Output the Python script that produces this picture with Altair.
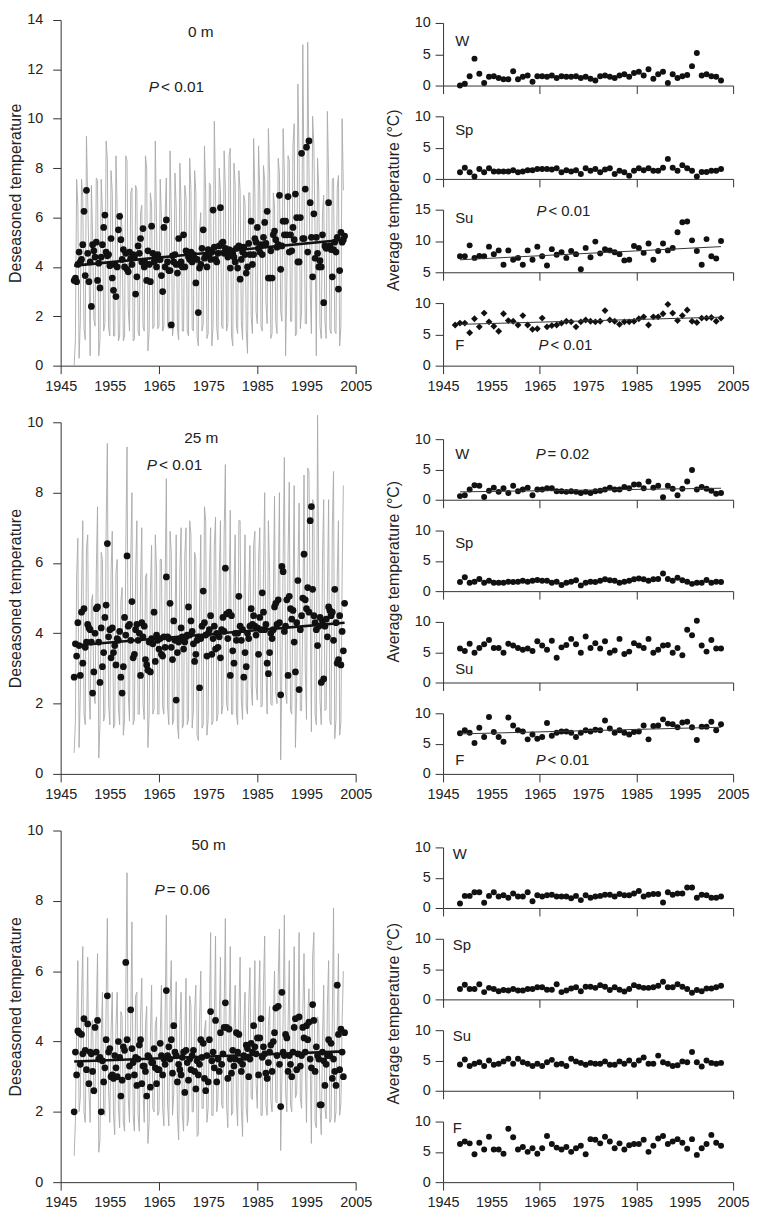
import altair as alt
import pandas as pd

FONT = "Liberation Sans"
INK = "#111111"
TXT = "#222222"

# ---------------- 0 m ----------------
dots0 = [3.45, 3.55, 3.4, 4.1, 4.6, 4.2, 4.3, 4.9, 6.25, 3.65, 7.1, 4.55,
         3.4, 4.2, 2.4, 4.9, 4.65, 4.4, 5.0, 3.45, 4.15, 3.15, 4.4, 4.9, 5.6, 6.1,
         4.6, 4.45, 4.5, 4.05, 5.15, 3.55, 3.05, 4.1, 2.8, 4.0, 5.5, 6.05, 5.1, 4.3, 4.7, 4.0,
         4.55, 3.9, 3.8, 4.6, 4.35, 4.1, 4.5, 4.4, 2.9, 3.6, 4.85, 4.55, 5.15, 4.2,
         5.55, 4.0, 4.15, 3.45, 4.65, 4.1, 3.4, 5.65, 4.55, 4.2, 4.4, 4.0, 4.5, 4.3,
         4.3, 3.65, 3.0, 5.6, 4.0, 5.9, 4.2, 3.85, 3.85, 1.65, 4.45, 4.2, 4.5, 4.1,
         3.75, 5.15, 4.1, 4.2, 4.0, 5.3, 4.0, 4.65, 4.55, 4.4, 4.3, 4.6, 4.2, 4.5, 4.35,
         3.35, 4.3, 2.15, 3.95, 4.1, 4.75, 5.5, 4.35, 4.45, 4.0, 4.7, 4.5, 4.3, 4.6,
         6.3, 4.8, 4.3, 4.2, 4.55, 4.85, 6.4, 4.95, 5.0, 4.55, 4.75, 4.6, 4.4, 4.7,
         3.95, 4.65, 4.55, 4.4, 4.2, 4.75, 3.95, 4.85, 3.5, 4.3, 4.6, 4.8, 4.5,
         3.75, 4.0, 4.95, 4.5, 5.85, 4.1, 4.5, 5.15, 5.0, 5.6, 4.75, 4.6, 4.9,
         4.5, 5.2, 5.8, 4.95, 6.25, 3.55, 3.55, 4.65, 3.55, 5.3, 5.45, 5.1, 4.8, 4.9,
         6.9, 3.9, 4.85, 5.85, 5.3, 5.85, 5.3, 6.85, 4.6, 5.3, 4.65, 5.6,
         5.1, 6.95, 6.0, 4.2, 4.2, 6.0, 8.6, 5.15, 5.15, 7.15, 8.85, 4.6, 9.1, 6.6,
         5.2, 3.6, 6.15, 4.35, 5.2, 4.55, 4.0, 4.25, 4.0, 5.3, 2.55, 4.85, 4.75, 4.8,
         6.6, 4.85, 4.7, 3.6, 4.7, 5.0, 4.6, 5.2, 3.1, 3.85, 5.4, 5.0, 5.1, 5.25]
trend0 = [4.05, 5.1]
w0 = [0.0, 0.3, 1.5, 4.3, 1.9, 0.4, 1.4, 1.5, 1.2, 1.0, 1.0, 2.3, 1.0, 1.4, 1.6, 0.6, 1.5, 1.5, 1.4, 1.6,
      1.2, 1.5, 1.4, 1.4, 1.5, 1.2, 1.4, 1.1, 0.8, 1.5, 1.6, 1.4, 1.2, 1.6, 1.8, 1.4, 2.0, 2.2, 1.6, 2.6,
      1.1, 1.8, 2.2, 0.4, 1.8, 1.2, 1.5, 1.7, 3.1, 5.2, 1.6, 1.8, 1.5, 1.4, 0.8]
sp0 = [1.05, 1.8, 1.05, 0.4, 1.6, 1.05, 1.7, 1.2, 1.2, 1.2, 1.2, 1.4, 1.05, 1.2, 1.4, 1.4, 1.6, 1.6, 1.6, 1.5,
       1.7, 1.05, 1.4, 1.2, 1.4, 0.8, 1.7, 1.3, 1.6, 1.05, 1.5, 1.7, 0.8, 1.3, 1.05, 0.5, 1.3, 1.7, 1.4, 1.7,
       1.3, 1.3, 1.8, 3.2, 1.8, 1.3, 2.2, 1.7, 1.3, 0.4, 1.1, 1.1, 1.3, 1.3, 1.6]
su0 = [7.55, 7.55, 9.3, 7.3, 7.6, 7.55, 9.1, 7.9, 8.5, 6.2, 8.5, 7.0, 7.3, 6.2, 8.5, 7.0, 9.1, 7.55, 6.1, 8.7,
       7.8, 8.2, 7.3, 8.4, 7.9, 5.5, 8.9, 7.4, 9.9, 8.0, 8.7, 8.5, 8.2, 7.9, 6.9, 7.0, 9.2, 8.9, 8.1, 9.6,
       7.0, 8.4, 9.6, 8.5, 8.9, 11.4, 13.0, 13.1, 10.1, 8.4, 6.2, 10.3, 7.55, 7.2, 10.0]
f0 = [6.5, 6.8, 6.8, 5.25, 7.5, 6.2, 8.4, 7.0, 6.3, 5.5, 8.3, 7.2, 7.1, 6.5, 8.0, 6.5, 5.8, 5.9, 7.6, 6.2,
      6.4, 6.5, 6.8, 7.1, 7.0, 6.2, 7.0, 7.3, 7.1, 7.0, 7.1, 8.8, 7.3, 7.1, 6.6, 7.0, 7.0, 7.1, 7.5, 7.8,
      6.5, 7.8, 7.8, 8.3, 9.8, 8.4, 7.2, 8.0, 8.9, 7.1, 6.9, 7.6, 7.6, 7.7, 7.1, 7.6]
su0_trend = [7.0, 9.1]
f0_trend = [6.6, 7.75]

# ---------------- 25 m ----------------
dots25 = [2.75, 3.7, 3.35, 4.3, 3.65, 2.8, 4.6, 3.15, 4.7, 3.6,
          3.75, 4.25, 4.15, 4.1, 3.75, 2.3, 2.9, 4.0, 4.7, 4.75,
          3.75, 2.6, 4.15, 3.05, 3.45, 4.45, 4.8, 6.55, 3.9, 4.1,
          3.3, 4.15, 3.45, 3.65, 3.1, 3.85, 3.8, 4.05, 2.75, 2.3,
          3.05, 4.45, 3.95, 6.2, 4.2, 4.25, 3.8, 4.9, 3.3, 3.4,
          4.1, 4.25, 3.8, 4.0, 2.8, 4.3, 3.9, 4.2, 3.25, 3.1,
          2.95, 3.75, 2.9, 3.85, 3.7, 4.6, 3.2, 3.95, 3.8, 3.55,
          3.85, 3.4, 3.35, 3.9, 3.6, 5.6, 3.9, 3.85, 4.85, 3.6,
          3.25, 4.35, 3.8, 2.1, 3.45, 3.75, 3.85, 4.15, 3.9, 3.55,
          3.75, 3.9, 3.95, 4.75, 3.95, 4.35, 4.05, 3.7, 3.2, 3.4, 3.8, 3.9, 2.45,
          3.85, 4.2, 5.2, 4.3, 3.95, 3.35, 4.0, 4.1, 4.5, 3.4, 3.85, 4.2, 3.55,
          4.0, 3.6, 3.9, 3.3, 4.1, 4.45, 4.05, 5.85,
          4.55, 3.85, 4.6, 2.8, 4.5, 3.5, 3.15, 4.0, 3.8, 4.0, 5.05, 4.2, 3.8, 4.1,
          2.75, 3.45, 3.05, 4.0, 3.85, 4.2, 4.7, 4.25, 4.5, 4.2, 3.95, 4.15,
          3.4, 4.45, 4.1, 5.15, 4.6, 4.1, 4.25, 3.15, 2.85, 3.45, 4.0,
          3.85, 4.1, 4.75, 4.85, 4.25, 4.95, 4.3, 2.25,
          5.9, 5.75, 4.05, 4.2, 4.95, 2.8, 5.05, 4.7, 4.4, 4.65, 3.75, 2.9, 4.3, 5.5, 2.4, 4.1,
          4.5, 5.0, 6.25, 4.95, 4.7, 5.3, 4.6, 7.2,
          7.6, 5.25, 4.5, 4.3, 4.1, 3.65, 4.2, 4.45, 2.6, 4.35, 2.7, 4.2, 4.4, 3.9, 4.75, 4.65,
          4.5, 4.6, 3.8, 5.25, 4.3, 3.15, 3.25, 4.5, 3.1, 4.05, 3.5, 4.85]
trend25 = [3.65, 4.3]
w25 = [0.6, 0.75, 1.7, 2.4, 2.3, 0.45, 1.5, 2.0, 1.3, 1.9, 1.1, 2.3, 1.4, 1.7, 2.0, 0.75, 1.7, 1.7, 1.9, 1.9,
       1.4, 1.4, 1.3, 1.4, 1.3, 1.1, 1.3, 1.1, 1.4, 1.5, 1.7, 2.0, 1.7, 1.7, 2.1, 1.9, 2.5, 2.5, 1.9, 3.0,
       2.0, 2.3, 0.4, 2.3, 1.8, 0.75, 1.8, 3.0, 4.9, 1.7, 2.1, 1.8, 1.5, 1.0, 1.1]
sp25 = [1.5, 2.3, 1.4, 1.55, 2.0, 1.4, 1.7, 1.4, 1.4, 1.4, 1.55, 1.5, 1.55, 1.7, 1.55, 1.7, 1.85, 1.7, 1.7, 1.4,
        1.55, 1.0, 1.4, 1.55, 1.8, 0.95, 1.4, 1.55, 1.5, 1.7, 1.95, 1.8, 1.7, 1.4, 1.55, 1.7, 1.95, 2.1, 1.95, 1.7,
        1.95, 2.0, 2.9, 2.0, 1.7, 2.2, 1.8, 1.55, 1.2, 1.4, 1.4, 1.85, 1.4, 1.55, 1.5]
su25 = [5.6, 5.2, 6.4, 4.9, 5.7, 6.3, 7.0, 5.7, 5.7, 4.9, 6.4, 6.1, 5.7, 5.4, 5.6, 5.2, 6.8, 6.1, 5.4, 6.9,
        4.1, 5.8, 6.2, 7.2, 6.3, 4.9, 7.6, 5.7, 6.5, 5.6, 6.8, 4.9, 5.3, 7.2, 4.7, 5.1, 6.5, 6.1, 5.7, 7.2,
        4.9, 5.4, 6.1, 6.2, 4.9, 5.7, 4.5, 8.7, 7.8, 10.2, 6.1, 5.1, 7.0, 5.6, 5.6]
f25 = [6.7, 7.2, 6.8, 5.1, 7.6, 6.1, 9.4, 6.9, 6.1, 5.3, 9.3, 8.0, 7.2, 7.0, 5.7, 6.5, 5.8, 6.1, 8.4, 6.3,
       6.8, 7.0, 7.0, 6.8, 6.1, 6.8, 7.2, 7.0, 7.3, 7.2, 8.8, 7.5, 6.8, 7.2, 6.8, 6.5, 6.9, 7.0, 8.0, 5.7,
       7.9, 8.0, 9.0, 8.3, 8.2, 7.7, 8.5, 8.6, 7.7, 5.6, 7.8, 7.8, 8.6, 7.2, 8.2]
w25_trend = [1.3, 1.9]
f25_trend = [6.6, 7.7]

# ---------------- 50 m ----------------
dots50 = [2.0, 3.7, 3.05, 4.3, 4.25, 3.35, 4.2, 3.65, 4.65, 3.75, 3.2, 4.5, 2.8, 3.7, 3.65, 3.15, 2.6,
          4.4, 3.7, 4.6, 3.5, 3.55, 2.0, 3.45, 2.85, 3.25, 4.05, 5.3, 3.7, 3.8, 3.0, 3.05, 2.95, 3.6,
          3.25, 3.0, 4.0, 3.55, 2.45, 2.9, 3.85, 3.75, 6.25, 4.05, 3.0, 3.3, 4.9, 3.8, 3.4, 3.05,
          3.55, 2.75, 3.5, 3.9, 4.05, 2.8, 3.3, 3.3, 3.15, 2.45, 3.6, 3.55, 2.7, 3.4, 3.4, 3.8, 3.25,
          2.8, 3.2, 3.2, 3.95, 3.6, 3.05, 3.5, 3.35,
          5.45,
          3.6, 3.85, 3.5, 4.05, 3.1, 4.45, 3.7, 3.6, 2.85, 3.35, 3.2, 3.05, 3.55, 3.7, 2.55, 3.75, 3.4,
          2.9, 3.5, 3.2, 3.6, 3.75, 3.15, 2.65, 3.45, 3.05, 3.35, 4.05, 3.55, 3.95, 2.95, 2.6, 3.6, 2.85,
          4.05, 4.85, 3.45, 3.7, 3.25, 4.6, 2.85, 3.5, 3.15, 4.25, 3.35, 3.65, 4.4,
          5.1,
          4.4, 2.95, 4.35, 3.5, 3.1, 3.75, 3.3, 3.5, 4.25, 3.7, 4.2, 3.45, 3.15, 3.35, 3.6, 3.55, 3.9,
          3.8, 3.0, 3.5, 3.95, 3.7, 4.45, 3.85, 3.65, 4.1, 3.05, 4.1, 4.65, 3.55, 3.85, 3.65, 3.1, 2.95,
          3.4, 3.7, 3.9, 3.15, 4.0, 4.25, 4.95, 3.6, 5.0, 3.35,
          2.15,
          5.4, 3.7, 3.6, 4.2, 4.1, 3.15, 3.6, 3.35, 3.0, 3.7, 4.4, 4.65, 3.2, 3.65, 4.7, 3.3, 3.6, 4.4,
          4.1, 3.7, 4.45, 4.05, 4.55, 3.5, 3.25,
          5.05,
          4.6, 3.15, 3.85, 3.6, 3.5, 2.2, 2.2, 3.7, 3.45, 2.75, 3.35, 3.6, 4.05, 3.6, 3.95, 2.95, 3.5,
          3.15, 2.75,
          5.6,
          4.2, 3.2, 4.35, 3.7, 3.0, 4.25]
trend50 = [3.43, 3.72]
w50 = [0.75, 2.0, 2.0, 2.6, 2.6, 0.85, 2.0, 2.6, 1.9, 2.1, 1.7, 2.4, 1.9, 1.9, 2.6, 1.1, 2.1, 1.9, 2.1, 2.2,
       1.9, 1.9, 1.9, 1.6, 2.0, 1.3, 2.1, 1.7, 1.9, 2.0, 2.2, 2.2, 1.9, 2.3, 2.1, 2.1, 2.4, 2.8, 1.9, 2.2,
       2.3, 2.3, 0.9, 2.6, 2.2, 2.4, 2.4, 3.4, 3.4, 1.7, 2.2, 2.1, 1.7, 1.7, 1.9]
sp50 = [1.7, 2.4, 1.7, 1.7, 2.5, 1.2, 1.9, 1.7, 1.35, 1.55, 1.45, 1.7, 1.45, 1.45, 1.7, 1.7, 2.0, 2.0, 1.6, 1.6,
        2.5, 1.2, 1.45, 1.8, 2.0, 1.35, 2.1, 2.1, 1.9, 2.35, 2.1, 1.55, 2.0, 1.6, 1.3, 1.7, 2.35, 2.1, 1.9, 1.9,
        2.0, 2.25, 2.9, 2.0, 2.0, 2.5, 2.1, 1.7, 1.1, 1.55, 1.35, 1.8, 1.8, 2.0, 2.25]
su50 = [4.35, 5.15, 4.1, 4.45, 4.7, 4.1, 5.0, 4.3, 4.45, 4.85, 5.3, 4.45, 5.3, 4.7, 4.45, 4.1, 4.45, 4.1, 4.7, 5.1,
        4.35, 4.45, 4.1, 5.3, 4.85, 4.6, 4.3, 4.6, 4.45, 4.45, 4.85, 4.3, 4.3, 4.85, 4.45, 5.0, 4.3, 5.0, 5.5, 4.45,
        4.45, 5.8, 4.7, 4.45, 4.1, 4.2, 4.85, 4.7, 6.4, 4.7, 4.0, 5.0, 4.6, 4.45, 4.6]
f50 = [6.3, 6.7, 6.4, 4.6, 6.5, 5.4, 7.5, 5.4, 5.4, 4.7, 8.8, 7.4, 5.4, 5.8, 5.0, 5.6, 4.7, 5.6, 7.6, 6.3,
       5.7, 5.4, 5.8, 5.0, 5.6, 6.0, 4.6, 7.1, 7.0, 6.4, 7.5, 6.7, 5.6, 6.4, 5.4, 6.1, 6.3, 6.3, 7.0, 5.0,
       6.0, 7.2, 7.6, 6.3, 6.7, 7.1, 6.5, 5.5, 7.1, 4.5, 5.6, 6.3, 7.8, 6.5, 6.0]

YEAR0 = 1947.75      # first quarter of the record
TREND_T = [1947.75, 2002.75]
SEASON_T = [1948.5, 2002.5]
X_DOMAIN = [1945, 2005]
LEFT_W, RIGHT_W = 297, 292


def x_axis(labels):
    if labels:
        return alt.Axis(values=list(range(1945, 2006, 10)), format="d", title=None,
                        labelPadding=6, labelOverlap=False, labelFlush=False,
                        tickOpacity={"condition": {"test": "datum.value % 20 == 5", "value": 1},
                                     "value": 0})
    return alt.Axis(values=[1945, 1965, 1985, 2005], labels=False, title=None)


def text_layer(X, Y, t, v, s, **kw):
    df = pd.DataFrame({"t": [t], "v": [v], "s": [s]})
    base = dict(font=FONT, fontSize=15.5, color=TXT, baseline="middle")
    base.update(kw)
    return alt.Chart(df).mark_text(**base).encode(X, Y, text="s:N")


def p_layers(X, Y, t, v, rest, size=15.5):
    return [text_layer(X, Y, t, v, "P", align="right", fontStyle="italic", fontSize=size),
            text_layer(X, Y, t, v, rest, align="left", dx=2, fontSize=size)]


def seasonal_frame(w, sp, su, f):
    n = min(len(w), len(sp), len(su), len(f))
    t, v = [], []
    for i in range(n):
        for q, s in enumerate((w, sp, su, f)):
            t.append(YEAR0 + i + 0.25 * q)
            v.append(s[i])
    return pd.DataFrame({"t": t, "v": v})


def left_panel(dots, seasons, trend, ymax, h, depth, depth_pos, p_rest, p_pos):
    X = alt.X("t:Q", scale=alt.Scale(domain=X_DOMAIN, nice=False, zero=False), axis=x_axis(True))
    Y = alt.Y("v:Q", scale=alt.Scale(domain=[0, ymax], nice=False, zero=False),
              axis=alt.Axis(values=list(range(0, ymax + 1, 2)), title="Deseasoned temperature",
                            titleX=-45, titleY=h / 2, titleAngle=270, titleAlign="center",
                            titleBaseline="middle", labelPadding=10))
    gray = alt.Chart(seasonal_frame(*seasons)).mark_line(color="#aaaaaa", strokeWidth=0.9).encode(X, Y)
    dfd = pd.DataFrame({"t": [YEAR0 + 0.25 * i for i in range(len(dots))], "v": dots})
    pts = alt.Chart(dfd).mark_circle(size=46, color=INK, opacity=1).encode(X, Y)
    tr = alt.Chart(pd.DataFrame({"t": TREND_T, "v": trend})).mark_line(
        color=INK, strokeWidth=2.6).encode(X, Y)
    layers = [gray, pts, tr, text_layer(X, Y, depth_pos[0], depth_pos[1], depth, align="center")]
    layers += p_layers(X, Y, p_pos[0], p_pos[1], p_rest)
    return alt.layer(*layers).properties(width=LEFT_W, height=h)


def season_panel(vals, dom, h, label, label_pos, off=0, start=1948.5, shape="circle",
                 trend=None, ptxt=None, bottom=False, ytitle=None, title_y=0):
    if off:
        ysc = alt.Scale(domain=dom, nice=False, zero=False, range=[h + off, off])
    else:
        ysc = alt.Scale(domain=dom, nice=False, zero=False)
    mid = (dom[0] + dom[1]) // 2
    if ytitle:
        yax = alt.Axis(values=[dom[0], mid, dom[1]], labelPadding=5, title=ytitle,
                       titleX=-50, titleY=title_y, titleAngle=270, titleAlign="center",
                       titleBaseline="middle")
    else:
        yax = alt.Axis(values=[dom[0], mid, dom[1]], labelPadding=5, title=None)
    X = alt.X("t:Q", scale=alt.Scale(domain=X_DOMAIN, nice=False, zero=False), axis=x_axis(bottom))
    Y = alt.Y("v:Q", scale=ysc, axis=yax)
    df = pd.DataFrame({"t": [start + i for i in range(len(vals))], "v": vals})
    if shape == "diamond":
        pts = alt.Chart(df).mark_point(shape="diamond", filled=True, size=48, color=INK,
                                       opacity=1).encode(X, Y)
    else:
        pts = alt.Chart(df).mark_circle(size=36, color=INK, opacity=1).encode(X, Y)
    layers = [pts]
    if trend:
        layers.append(alt.Chart(pd.DataFrame({"t": SEASON_T, "v": trend})).mark_line(
            color="#333333", strokeWidth=1).encode(X, Y))
    layers.append(text_layer(X, Y, label_pos[0], label_pos[1], label, align="left", fontSize=15))
    if ptxt:
        layers += p_layers(X, Y, ptxt[0], ptxt[1], ptxt[2], size=15)
    return alt.layer(*layers).properties(width=RIGHT_W, height=h + off)


# ---------------- left column ----------------
left_col = alt.vconcat(
    left_panel(dots0, (w0, sp0, su0, f0), trend0, 14, 348, "0 m", (1973.5, 13.5),
               "< 0.01", (1965.0, 11.3)),
    left_panel(dots25, (w25, sp25, su25, f25), trend25, 10, 354, "25 m", (1973.6, 9.55),
               "< 0.01", (1964.6, 8.79)),
    left_panel(dots50, (w50, sp50, su50, f50), trend50, 10, 354, "50 m", (1975.1, 9.6),
               "= 0.06", (1966.2, 8.3)),
    spacing=57, bounds="flush",
)

# ---------------- right column ----------------
TITLE = "Average temperature (°C)"
right_col = alt.vconcat(
    season_panel(w0, [0, 10], 63, "W", (1947.5, 7.1), off=3),
    season_panel(sp0, [0, 10], 63, "Sp", (1947.5, 7.8), ytitle=TITLE, title_y=84),
    season_panel(su0, [5, 15], 63, "Su", (1947.5, 13.6), trend=su0_trend,
                 ptxt=(1966.4, 14.8, "< 0.01")),
    season_panel(f0, [0, 10], 63, "F", (1947.5, 3.3), start=1947.5, shape="diamond",
                 trend=f0_trend, ptxt=(1966.8, 3.3, "< 0.01"), bottom=True),

    season_panel(w25, [0, 10], 61, "W", (1947.5, 7.5), off=43, trend=w25_trend,
                 ptxt=(1966.2, 7.5, "= 0.02")),
    season_panel(sp25, [0, 10], 61, "Sp", (1947.5, 8.0), ytitle=TITLE, title_y=41),
    season_panel(su25, [0, 10], 61, "Su", (1947.5, 2.3)),
    season_panel(f25, [0, 10], 61, "F", (1947.5, 2.3), trend=f25_trend,
                 ptxt=(1966.2, 2.3, "< 0.01"), bottom=True),

    season_panel(w50, [0, 10], 61, "W", (1947.0, 8.9), off=43),
    season_panel(sp50, [0, 10], 61, "Sp", (1947.0, 8.9), ytitle=TITLE, title_y=75),
    season_panel(su50, [0, 10], 61, "Su", (1947.0, 9.0)),
    season_panel(f50, [0, 10], 61, "F", (1947.0, 8.9), bottom=True),
    spacing=31, bounds="flush",
)

chart = (
    alt.hconcat(left_col, right_col, spacing=12)
    .properties(padding=0)
    .configure_view(stroke=None)
    .configure_axis(
        labelFont=FONT, labelFontSize=14.5, labelColor=TXT,
        titleFont=FONT, titleFontSize=16, titleFontWeight="normal", titleColor=TXT,
        domainColor="#333333", tickColor="#333333", tickSize=8, grid=False,
        domainWidth=1, tickWidth=1,
    )
)

chart.save("out.html", embed_options={"renderer": "svg", "actions": False})
